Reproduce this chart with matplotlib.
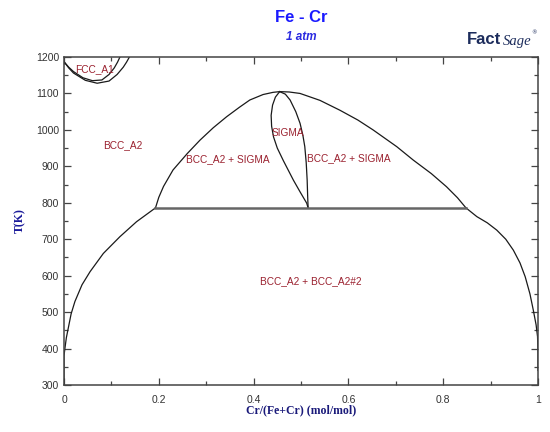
import matplotlib
matplotlib.use("Agg")
import matplotlib.pyplot as plt
from matplotlib.ticker import MultipleLocator

# ---- data (x = Cr/(Fe+Cr), T in K) ----
gamma_outer_x = [0.0, 0.01, 0.02, 0.045, 0.07, 0.095, 0.112, 0.125, 0.132, 0.138]
gamma_outer_T = [1187, 1170, 1156, 1136, 1128, 1134, 1152, 1172, 1186, 1200]
gamma_inner_x = [0.0, 0.01, 0.02, 0.04, 0.06, 0.08, 0.095, 0.106, 0.113, 0.118]
gamma_inner_T = [1187, 1172, 1160, 1143, 1135, 1137, 1152, 1170, 1186, 1200]

sig_left_x = [0.193, 0.20, 0.21, 0.23, 0.26, 0.287, 0.315, 0.343, 0.37, 0.392, 0.42, 0.441, 0.455]
sig_left_T = [786, 815, 845, 890, 935, 972, 1006, 1036, 1062, 1082, 1097, 1103, 1105]

sigma_l_x = [0.455, 0.446, 0.44, 0.437, 0.438, 0.442, 0.45, 0.463, 0.484, 0.498, 0.512, 0.515]
sigma_l_T = [1105, 1090, 1068, 1040, 1010, 981, 950, 915, 862, 830, 799, 786]
sigma_r_x = [0.455, 0.467, 0.477, 0.489, 0.498, 0.504, 0.508, 0.511, 0.513, 0.514, 0.515]
sigma_r_T = [1105, 1098, 1082, 1050, 1018, 985, 954, 910, 862, 820, 786]

sig_right_x = [0.455, 0.475, 0.498, 0.54, 0.582, 0.62, 0.652, 0.702, 0.737, 0.775, 0.807, 0.83, 0.848]
sig_right_T = [1105, 1104, 1100, 1081, 1054, 1027, 1000, 954, 917, 880, 844, 814, 786]

gap_left_x = [0.0, 0.0, 0.002, 0.005, 0.009, 0.015, 0.023, 0.038, 0.055, 0.083, 0.118, 0.153, 0.193]
gap_left_T = [300, 380, 401, 430, 456, 495, 529, 575, 611, 661, 707, 748, 786]
gap_right_x = [0.848, 0.871, 0.893, 0.913, 0.932, 0.948, 0.962, 0.973, 0.983, 0.990, 0.996, 0.999, 1.0, 1.0]
gap_right_T = [786, 762, 745, 725, 700, 670, 635, 597, 550, 506, 465, 433, 390, 340]

eutectoid_x = [0.193, 0.848]
eutectoid_T = [786, 786]

labels = ["FCC_A1", "BCC_A2", "BCC_A2 + SIGMA", "SIGMA", "BCC_A2 + SIGMA", "BCC_A2 + BCC_A2#2"]
label_x = [0.065, 0.125, 0.345, 0.472, 0.60, 0.52]
label_T = [1167, 958, 920, 992, 923, 585]

x_ticks = [0, 0.2, 0.4, 0.6, 0.8, 1]
x_tick_labels = ["0", "0.2", "0.4", "0.6", "0.8", "1"]
y_ticks = [300, 400, 500, 600, 700, 800, 900, 1000, 1100, 1200]

# ---- figure ----
fig = plt.figure(figsize=(5.5, 4.32), dpi=100)
ax = fig.add_axes([64/550, 1-385/432, (538-64)/550, (385-57)/432])

lc = "#1a1a1a"
lw = 0.9
for xs, ts in [(gamma_outer_x, gamma_outer_T), (gamma_inner_x, gamma_inner_T),
               (sig_left_x, sig_left_T), (sigma_l_x, sigma_l_T), (sigma_r_x, sigma_r_T),
               (sig_right_x, sig_right_T), (gap_left_x, gap_left_T), (gap_right_x, gap_right_T)]:
    ax.plot(xs, ts, color=lc, lw=lw, solid_joinstyle="round")
ax.plot(eutectoid_x, eutectoid_T, color="#666666", lw=1.8)

lab_col = "#9b2230"
for s, x, t in zip(labels, label_x, label_T):
    ax.text(x, t, s, color=lab_col, fontsize=7.3, family="Liberation Sans",
            ha="center", va="center")

ax.set_xlim(0, 1)
ax.set_ylim(300, 1200)
ax.set_xticks(x_ticks)
ax.set_xticklabels(x_tick_labels)
ax.set_yticks(y_ticks)
ax.xaxis.set_minor_locator(MultipleLocator(0.1))
ax.yaxis.set_minor_locator(MultipleLocator(50))
ax.tick_params(which="both", direction="in", top=True, right=True, color="#444444",
               labelsize=7.5, labelcolor="#333333", width=0.9)
ax.tick_params(which="major", length=5)
ax.tick_params(which="minor", length=3)
ax.tick_params(axis="x", pad=7)
for lab in ax.get_xticklabels() + ax.get_yticklabels():
    lab.set_family("Liberation Sans")
for sp in ax.spines.values():
    sp.set_color("#444444")
    sp.set_linewidth(1.1)

ax.set_xlabel("Cr/(Fe+Cr) (mol/mol)", family="Liberation Serif", fontweight="bold",
              fontsize=8.5, color="#1a1a7a")
ax.xaxis.set_label_coords(0.5, -(410 - 385) / 328, transform=ax.transAxes)
ax.xaxis.label.set_va("center")
ax.set_ylabel("T(K)", family="Liberation Serif", fontweight="bold",
              fontsize=8.5, color="#1a1a9a")
ax.yaxis.set_label_coords((20 - 64) / 474, 0.5)
ax.yaxis.label.set_va("center")

fig.text(301/550, 1-17/432, "Fe - Cr", family="Liberation Sans", fontweight="bold",
         fontsize=12, color="#1a1aff", ha="center", va="center")
fig.text(301/550, 1-37/432, "1 atm", family="Liberation Sans", fontweight="bold",
         style="italic", fontsize=8.5, color="#2a2ae0", ha="center", va="center")

# FactSage logo as text
fig.text(467/550, 1-40/432, "Fact", family="Liberation Sans", fontweight="bold",
         fontsize=12, color="#1c2c5c", ha="left", va="center")
fig.text(503/550, 1-41/432, "Sage", family="Liberation Serif", style="italic",
         fontsize=10.5, color="#1c2c5c", ha="left", va="center")
fig.text(531/550, 1-33/432, "\u00ae", family="DejaVu Sans", fontsize=4,
         color="#1c2c5c", ha="left", va="center")

fig.savefig("out.png", dpi=100)
